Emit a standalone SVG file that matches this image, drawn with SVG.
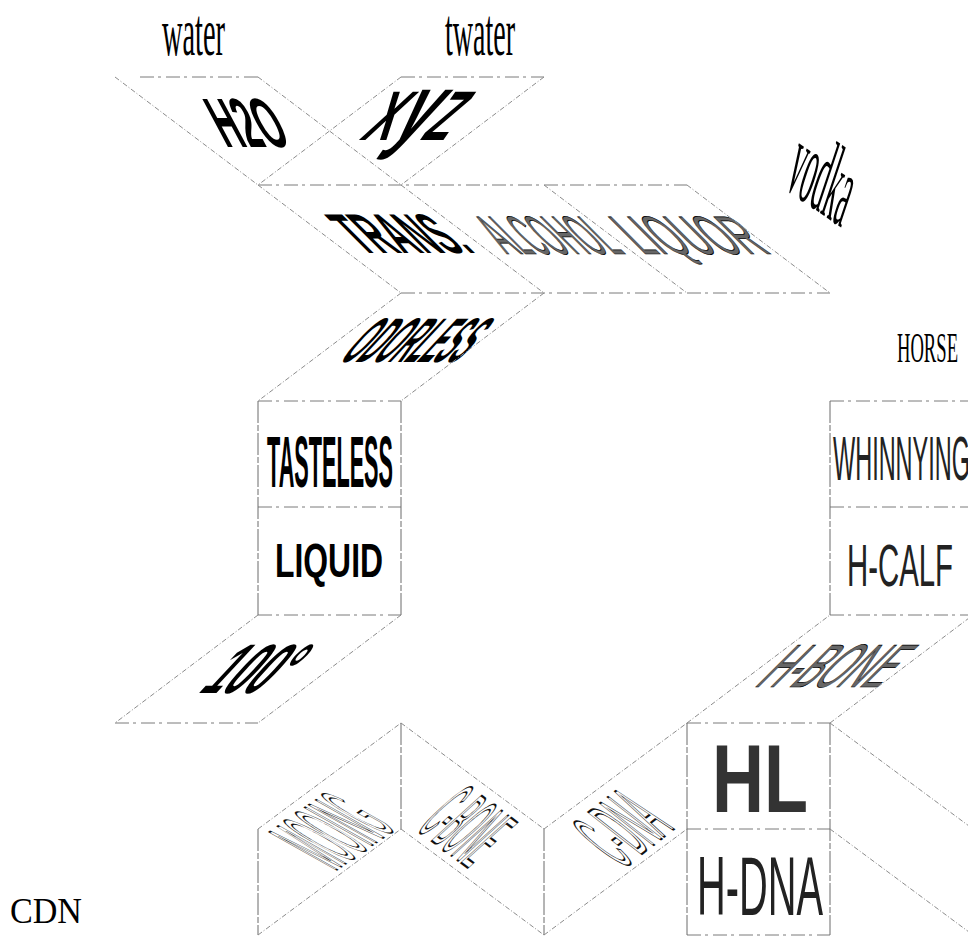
<svg xmlns="http://www.w3.org/2000/svg" width="968" height="938" viewBox="0 0 968 938">
<style>
.face{fill:#fff;stroke:none}
.sl{stroke:#8c8c8c;stroke-width:1;fill:none;stroke-dasharray:5 2 1 2}
.hz{stroke:#7a7a7a;stroke-width:1;fill:none;stroke-dasharray:14 4 3 5}
.vt{stroke:#6a6a6a;stroke-width:1;fill:none;stroke-dasharray:22 2 6 2}
.sans{font-family:"Liberation Sans",Arial,sans-serif}
.serif{font-family:"Liberation Serif","Times New Roman",serif;fill:#000}
.b{font-weight:bold}
.blk{fill:#000}
.dk{fill:#222}
.ol{fill:#fff;stroke:#111;stroke-width:1.6;vector-effect:non-scaling-stroke}
.hat{fill:#666;stroke:#000;stroke-width:0.9;vector-effect:non-scaling-stroke}
</style>
<rect width="968" height="938" fill="#fff"/>

<g id="label-water"><text class="serif" x="162" y="55" font-size="67" textLength="63" lengthAdjust="spacingAndGlyphs">water</text></g>
<g id="label-twater"><text class="serif" x="445" y="55" font-size="67" textLength="70" lengthAdjust="spacingAndGlyphs">twater</text></g>

<g id="node-h2o">
<polygon class="face" points="115,77 258,77 401,185 258,185"/>
<text class="sans b blk" transform="translate(246.5,122) skewX(28)" x="0" y="25" font-size="70" text-anchor="middle" textLength="68" lengthAdjust="spacingAndGlyphs">H2O</text>
</g>
<g id="node-xyz">
<polygon class="face" points="401,77 544,77 401,185 258,185"/>
<text class="sans b blk" transform="translate(419,115) skewX(-35)" x="0" y="25" font-size="70" text-anchor="middle" textLength="86" lengthAdjust="spacingAndGlyphs">X<tspan font-size="95">y</tspan>Z</text>
</g>

<g id="node-trans">
<polygon class="face" points="258,185 401,185 544,293 401,293"/>
<text class="sans b blk" transform="translate(399.5,233) skewX(45)" x="0" y="20" font-size="56" text-anchor="middle" textLength="115" lengthAdjust="spacingAndGlyphs">TRANS.</text>
</g>
<g id="node-alcohol">
<polygon class="face" points="401,185 544,185 687,293 544,293"/>
<text class="sans hat" transform="translate(547,234) skewX(45)" x="0" y="19.5" font-size="54" text-anchor="middle" textLength="120" lengthAdjust="spacingAndGlyphs">ALCOHOL</text>
</g>
<g id="node-liquor">
<polygon class="face" points="544,185 687,185 830,293 687,293"/>
<text class="sans hat" transform="translate(688,234) skewX(45)" x="0" y="19.5" font-size="54" text-anchor="middle" textLength="130" lengthAdjust="spacingAndGlyphs">LIQUOR</text>
</g>

<g id="label-vodka"><text class="serif" transform="matrix(0.380,0.264,-0.525,1.575,784,188)" x="0" y="0" font-size="62" textLength="151" lengthAdjust="spacingAndGlyphs">vodka</text></g>

<g id="node-odorless">
<polygon class="face" points="401,293 544,293 401,401 258,401"/>
<text class="sans b blk" transform="translate(418.5,339.5) skewX(-43)" x="0" y="22.5" font-size="63" text-anchor="middle" textLength="121" lengthAdjust="spacingAndGlyphs">ODORLESS</text>
</g>
<g id="node-tasteless">
<rect class="face" x="258" y="401" width="143" height="106"/>
<text class="sans b blk" x="330" y="487" font-size="73" text-anchor="middle" textLength="126" lengthAdjust="spacingAndGlyphs">TASTELESS</text>
</g>
<g id="node-liquid">
<rect class="face" x="258" y="507" width="143" height="108"/>
<text class="sans b blk" x="329" y="577" font-size="49" text-anchor="middle" textLength="108" lengthAdjust="spacingAndGlyphs">LIQUID</text>
</g>
<g id="node-100">
<polygon class="face" points="258,615 401,615 258,723 115,723"/>
<text class="sans b blk" transform="translate(258.5,668) skewX(-43)" x="0" y="25" font-size="70" text-anchor="middle" textLength="77" lengthAdjust="spacingAndGlyphs">100°</text>
</g>

<g id="node-mooing">
<polygon class="face" points="258,829 401,723 401,829 258,935"/>
<text class="sans ol" transform="matrix(0.385,-0.267,2.44,1.37,335,871)" x="0" y="0" font-size="40" textLength="160" lengthAdjust="spacingAndGlyphs">MOOING</text>
</g>
<g id="node-cbone">
<polygon class="face" points="401,723 544,829 544,935 401,829"/>
<text class="sans ol" transform="matrix(0.334,0.251,-1.81,1.64,416,829)" x="0" y="0" font-size="40" textLength="158" lengthAdjust="spacingAndGlyphs">C-BONE</text>
</g>
<g id="node-cdna">
<polygon class="face" points="544,829 687,723 687,829 544,935"/>
<text class="sans ol" transform="matrix(0.398,-0.312,1.94,1.52,623,869)" x="0" y="0" font-size="40" textLength="129" lengthAdjust="spacingAndGlyphs">C-DNA</text>
</g>

<g id="node-hl">
<rect class="face" x="687" y="723" width="143" height="106"/>
<text class="sans b" fill="#333" x="712" y="812" font-size="96" textLength="96" lengthAdjust="spacingAndGlyphs">HL</text>
</g>
<g id="node-hdna">
<rect class="face" x="687" y="829" width="143" height="106"/>
<text class="sans dk" x="697" y="915" font-size="84" textLength="126" lengthAdjust="spacingAndGlyphs">H-DNA</text>
</g>
<g id="node-hbone">
<polygon class="face" points="830,615 973,615 830,723 687,723"/>
<text class="sans hat" transform="translate(838,665) skewX(-45)" x="0" y="22" font-size="61" text-anchor="middle" textLength="126" lengthAdjust="spacingAndGlyphs">H-BONE</text>
</g>
<g id="node-hcalf">
<rect class="face" x="830" y="507" width="143" height="108"/>
<text class="sans dk" x="847" y="586" font-size="60" textLength="106" lengthAdjust="spacingAndGlyphs">H-CALF</text>
</g>
<g id="node-whinnying">
<rect class="face" x="830" y="401" width="143" height="106"/>
<text class="sans dk" x="833" y="480" font-size="63" textLength="137" lengthAdjust="spacingAndGlyphs">WHINNYING</text>
</g>

<g id="label-horse"><text class="serif" x="897" y="362" font-size="42" textLength="61" lengthAdjust="spacingAndGlyphs">HORSE</text></g>
<g id="label-cdn"><text class="serif" x="10" y="923" font-size="35" textLength="72" lengthAdjust="spacingAndGlyphs">CDN</text></g>

<g id="edges">
<path class="hz" d="M140,77H258M401,77H544M258,185H687M401,293H830M258,401H401M258,507H401M258,615H401M115,723H258M687,723H830M687,829H830M687,935H830M830,401H968M830,507H968M830,615H968"/>
<path class="vt" d="M258,401V615M401,401V615M258,829V935M401,723V829M544,829V935M687,723V935M830,401V615M830,723V935"/>
<path class="sl" d="M115,77L258,185M258,77L401,185M401,77L258,185M544,77L401,185
M258,185L401,293M401,185L544,293M544,185L687,293M687,185L830,293
M401,293L258,401M544,293L401,401
M258,615L115,723M401,615L258,723
M258,829L401,723M258,935L401,829M401,723L544,829M401,829L544,935M544,829L687,723M544,935L687,829
M687,723L830,615M830,723L973,615M830,723L973,829M830,829L973,935"/>
</g>
</svg>
